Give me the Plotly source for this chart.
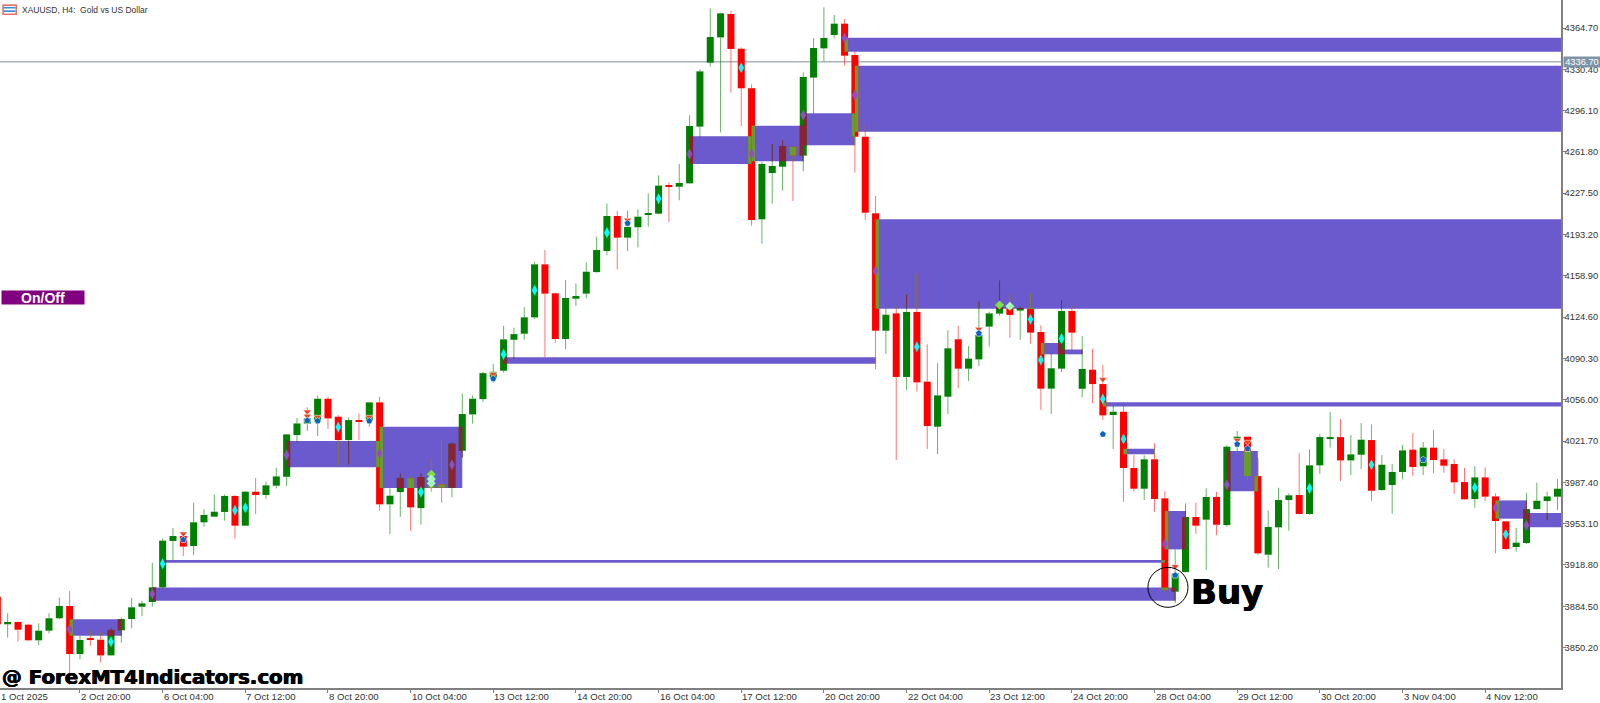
import plotly.graph_objects as go

# ---------- candle data (H4 XAUUSD) ----------
opens = [3892.4,3869.5,3871.4,3869.2,3856.2,3864.2,3874.5,3884.7,3844.8,3857.6,
3856.7,3843.7,3864.5,3873.9,3884.1,3888.0,3900.2,3938.7,3942.8,3934.5,
3954.2,3958.9,3962.8,3976.1,3951.4,3979.6,3976.9,3984.6,3992.0,4026.7,
4036.1,4037.7,4056.8,4041.9,4022.5,4038.6,4038.6,4053.8,3969.1,3979.3,
3990.9,3966.0,3984.3,3985.7,3982.9,4013.6,4043.8,4056.5,4074.3,4080.1,
4105.8,4110.8,4124.4,4168.4,4144.4,4106.4,4139.9,4144.1,4162.0,4179.5,
4208.6,4190.6,4199.2,4209.7,4210.5,4234.0,4232.9,4235.7,4282.8,4335.9,
4356.9,4376.3,4347.5,4314.6,4205.8,4244.3,4249.5,4266.1,4258.7,4323.5,
4347.8,4358.9,4368.3,4342.3,4274.4,4210.8,4113.3,4127.7,4074.9,4128.9,
4071.0,4033.6,4058.5,4106.2,4081.8,4089.5,4116.7,4127.5,4131.9,4130.0,
4131.9,4112.2,4065.2,4081.8,4129.7,4065.1,4080.9,4069.0,4043.3,4046.0,
3999.3,3982.1,4006.5,3974.1,3896.6,3912.9,3958.6,3956.4,3975.2,3951.9,
4023.6,4025.3,3992.6,3927.3,3950.0,3972.7,3976.9,3961.1,4001.5,4023.6,
4025.0,4005.6,4010.3,4022.5,3981.0,3985.2,3996.0,4014.5,4000.7,4016.2,
4006.5,4002.6,3987.6,3973.5,3991.5,3975.7,3955.0,3933.7,3937.0,3965.2,
3971.9,3975.5]
highs = [3895.2,3878.6,3872.0,3869.7,3870.3,3878.6,3891.9,3897.2,3860.1,3864.2,
3862.6,3866.1,3875.3,3891.6,3889.1,3920.7,3940.9,3949.5,3945.1,3970.5,
3965.0,3977.4,3977.4,3976.6,3980.2,3991.0,3988.0,3999.5,4027.5,4040.8,
4049.6,4059.6,4058.5,4043.3,4041.3,4044.6,4054.3,4058.5,3982.4,3994.8,
3992.0,3994.8,4007.3,4022.5,4020.6,4061.3,4059.6,4079.2,4085.6,4117.4,
4115.8,4133.0,4170.6,4180.3,4144.9,4155.4,4152.6,4170.1,4191.4,4218.8,
4212.7,4213.0,4214.1,4227.4,4242.3,4236.5,4251.8,4292.2,4330.6,4381.0,
4377.4,4379.1,4348.6,4317.9,4253.7,4268.4,4271.4,4266.1,4327.9,4356.4,
4381.9,4375.5,4372.2,4345.0,4284.1,4225.2,4131.9,4133.3,4143.2,4161.0,
4102.0,4086.2,4113.6,4117.2,4100.6,4137.7,4129.1,4154.9,4143.8,4133.3,
4144.4,4117.8,4094.0,4138.8,4134.4,4108.9,4098.1,4084.8,4050.8,4050.8,
4010.0,4009.8,4019.8,3980.2,3931.7,3969.9,3970.5,3982.4,3979.6,4018.4,
4030.0,4025.3,4007.3,3964.1,3982.9,3978.2,4011.7,4014.8,4027.5,4046.0,
4040.0,4026.7,4036.6,4035.5,4010.0,4002.6,4018.4,4028.3,4020.9,4030.8,
4015.0,4006.5,3999.5,4000.9,3999.8,3978.2,3955.3,3949.7,3978.8,3987.1,
3979.6,3990.1]
lows = [3867.5,3858.4,3855.1,3855.9,3852.3,3862.0,3873.6,3819.1,3840.4,3851.5,
3837.6,3843.4,3854.2,3866.1,3876.4,3884.1,3899.4,3922.9,3926.2,3927.0,
3950.6,3958.6,3955.6,3940.6,3951.1,3961.1,3973.8,3982.4,3984.3,4021.1,
4030.2,4025.8,4031.6,4001.5,4002.3,4022.5,4033.6,3963.8,3944.4,3958.8,
3947.2,3952.2,3979.6,3970.5,3974.9,4008.1,4036.1,4054.3,4070.1,4078.4,
4090.3,4105.8,4123.0,4091.2,4103.3,4097.9,4133.8,4140.2,4161.5,4176.2,
4164.3,4179.5,4182.5,4199.7,4210.2,4203.6,4221.6,4235.4,4274.4,4332.6,
4278.0,4311.0,4283.3,4200.5,4185.6,4218.8,4229.6,4221.0,4245.7,4293.8,
4337.0,4356.1,4333.4,4244.8,4205.3,4081.2,4094.0,4005.9,4064.1,4062.7,
4015.1,4010.9,4044.1,4065.5,4071.5,4084.0,4100.1,4125.8,4107.5,4105.6,
4102.6,4047.5,4044.1,4079.0,4097.3,4058.0,4053.0,4039.1,4015.0,3971.3,
3979.6,3972.7,3963.0,3896.6,3886.9,3912.6,3944.7,3914.6,3943.6,3950.5,
4013.4,3989.3,3927.0,3916.5,3915.4,3947.2,3960.8,3960.5,3994.3,4016.2,
3988.5,3993.5,3998.4,3972.1,3980.4,3961.3,3989.9,3992.9,3993.5,3994.8,
3995.4,3977.7,3973.0,3966.3,3971.9,3928.4,3930.6,3929.8,3936.2,3965.0,
3956.1,3964.4]
closes = [3869.5,3871.4,3865.0,3856.2,3864.2,3874.5,3884.7,3844.8,3856.5,3856.7,
3843.7,3864.8,3873.9,3883.6,3886.9,3900.2,3939.0,3942.8,3934.0,3954.2,
3960.3,3963.0,3976.1,3951.4,3979.6,3976.9,3984.9,3992.3,4027.2,4036.3,
4040.5,4056.8,4040.5,4022.5,4039.1,4037.7,4053.8,3969.1,3976.3,3990.9,
3966.6,3991.8,3983.2,3982.9,4019.5,4044.1,4056.8,4078.1,4079.2,4106.1,
4110.5,4124.4,4168.4,4144.1,4106.4,4140.5,4142.1,4162.3,4180.3,4208.6,
4190.6,4199.4,4208.0,4211.1,4233.8,4232.9,4236.0,4283.3,4328.7,4357.2,
4376.9,4347.3,4314.6,4205.2,4251.8,4250.1,4266.7,4258.7,4324.0,4348.1,
4356.4,4368.3,4341.7,4274.4,4211.3,4113.3,4126.6,4074.9,4128.9,4070.4,
4034.2,4059.6,4098.7,4081.8,4090.1,4109.8,4127.7,4132.7,4126.4,4131.9,
4111.7,4065.2,4082.1,4129.7,4111.7,4081.5,4069.0,4043.0,4046.0,3999.3,
3982.1,4006.5,3973.5,3898.5,3911.8,3958.6,3951.4,3975.2,3952.2,4017.0,
4025.3,3992.6,3928.4,3950.3,3972.7,3976.6,3961.1,4001.5,4025.0,4025.0,
4005.6,4010.6,4022.8,3980.4,4002.0,3996.0,4013.9,4000.1,4016.2,4005.9,
4001.2,3987.4,3973.3,3991.5,3975.5,3955.3,3932.0,3937.3,3965.2,3972.1,
3975.7,3982.1]

# ---------- supply / demand zones ----------
zone_start = [7,15,16,28,37,49,67,73,78,82,83,85,101,103,107,109,113,119,145,148]
zone_end   = [12,114,113,37,45,85,73,78,83,200,200,200,103,105,200,112,115,122,148,200]
zone_top   = [3873.6,3900.0,3922.9,4021.7,4033.6,4091.2,4274.8,4283.6,4293.9,4356.6,
              4333.4,4205.8,4103.1,4097.7,4053.8,4015.3,3963.6,4013.4,3972.4,3961.9]
zone_bot   = [3860.0,3889.1,3920.6,3999.9,3982.7,4085.9,4251.8,4254.0,4267.3,4345.0,
              4278.5,4131.6,4093.7,4093.7,4050.4,4010.7,3931.7,3979.9,3957.2,3950.0]

# ---------- indicator markers ----------
cyan_bars = [11,16,23,24,33,41,49,52,59,64,72,89,100,101,103,107,109,127,133,143,146]
cyan_vals = [3855.0,3919.8,3964.2,3966.3,4033.3,3979.3,4093.7,4146.9,4194.7,4222.9,4331.7,
             4100.0,4122.8,4089.0,4106.7,4056.6,4023.4,3982.4,4002.0,3982.9,3944.2]
violet_bars = [7,15,28,37,44,67,73,78,82,83,85,113,119,145,148]
violet_vals = [3865.3,3894.7,4010.0,4011.4,4002.0,4260.0,4260.3,4292.4,4356.4,4309.0,
               4162.9,3936.2,3985.4,3966.3,3951.7]
orange_bars = [18,30,30,31,36,48,61,95,107,114,120,121]
orange_vals = [3944.7,4046.0,4042.5,4041.6,4041.6,4077.1,4205.2,4114.7,4072.9,3917.6,4022.5,4020.9]
blue_bars = [18,30,31,36,48,61,95,107,114,120,121,138]
blue_vals = [3939.7,4038.6,4038.3,4038.3,4073.4,4202.5,4111.1,4027.3,3910.2,4019.0,4015.3,4006.2]
lime_bars = [42,97]
lime_vals = [3994.1,4134.7]
mint_bars = [42,42,98]
mint_vals = [3990.1,3986.6,4133.6]

# ---------- axes ----------
price_ticks = [4364.7,4330.4,4296.1,4261.8,4227.5,4193.2,4158.9,4124.6,4090.3,4056.0,
               4021.7,3987.4,3953.1,3918.8,3884.5,3850.2]
time_bars = [0,8,16,24,32,40,48,56,64,72,80,88,96,104,112,120,128,136,144]
time_labels = ["1 Oct 2025","2 Oct 20:00","6 Oct 04:00","7 Oct 12:00","8 Oct 20:00",
               "10 Oct 04:00","13 Oct 12:00","14 Oct 20:00","16 Oct 04:00","17 Oct 12:00",
               "20 Oct 20:00","22 Oct 04:00","23 Oct 12:00","24 Oct 20:00","28 Oct 04:00",
               "29 Oct 12:00","30 Oct 20:00","3 Nov 04:00","4 Nov 12:00"]
current_price = 4336.7

GREEN, RED, ZONE = "#008000", "#FF0000", "#6A5ACD"
MAROON, OLIVE = "#8B2332", "#6B9B2F"
HALF = 0.34
n = len(opens)
bars = list(range(n))


def body(i):
    return min(opens[i], closes[i]), max(opens[i], closes[i])


fig = go.Figure()

# zones
fig.add_trace(go.Bar(
    x=[(a + b) / 2 for a, b in zip(zone_start, zone_end)],
    width=[b - a for a, b in zip(zone_start, zone_end)],
    base=zone_bot,
    y=[t - b for t, b in zip(zone_top, zone_bot)],
    marker=dict(color=ZONE, line=dict(width=0)), hoverinfo="skip"))

# candle bodies
for up, col in ((True, GREEN), (False, RED)):
    idx = [i for i in bars if (closes[i] >= opens[i]) == up]
    fig.add_trace(go.Bar(
        x=idx, width=[2 * HALF] * len(idx),
        base=[body(i)[0] for i in idx],
        y=[body(i)[1] - body(i)[0] for i in idx],
        marker=dict(color=col, line=dict(width=0)), hoverinfo="skip"))

# XOR-like recolouring where candles and zones overlap
for up, col in ((True, MAROON), (False, OLIVE)):
    xs, ws, bs, hs = [], [], [], []
    for i in bars:
        if (closes[i] >= opens[i]) != up:
            continue
        lo, hi = body(i)
        for a, b, t, u in zip(zone_start, zone_end, zone_top, zone_bot):
            xl, xr = max(i - HALF, a), min(i + HALF, b)
            yl, yh = max(lo, u), min(hi, t)
            if xr > xl and yh > yl:
                xs.append((xl + xr) / 2); ws.append(xr - xl)
                bs.append(yl); hs.append(yh - yl)
    fig.add_trace(go.Bar(x=xs, width=ws, base=bs, y=hs,
                         marker=dict(color=col, line=dict(width=0)), hoverinfo="skip"))

# wicks
for up, col, zcol in ((True, "rgba(0,128,0,0.6)", "rgba(139,35,50,0.8)"),
                      (False, "rgba(255,0,0,0.55)", "rgba(107,155,47,0.8)")):
    xs, ys, zx, zy = [], [], [], []
    for i in bars:
        if (closes[i] >= opens[i]) != up:
            continue
        lo, hi = body(i)
        for s0, s1 in ((hi, highs[i]), (lows[i], lo)):
            if s1 <= s0:
                continue
            xs += [i, i, None]; ys += [s0, s1, None]
            for a, b, t, u in zip(zone_start, zone_end, zone_top, zone_bot):
                yl, yh = max(s0, u), min(s1, t)
                if a <= i <= b and yh > yl:
                    zx += [i, i, None]; zy += [yl, yh, None]
    fig.add_trace(go.Scatter(x=xs, y=ys, mode="lines", line=dict(color=col, width=1), hoverinfo="skip"))
    fig.add_trace(go.Scatter(x=zx, y=zy, mode="lines", line=dict(color=zcol, width=1), hoverinfo="skip"))

# markers
HALO = dict(width=1, color="rgba(255,255,255,0.55)")
SOLID = dict(width=0)
for mx, my, sym, col, size, edge in (
        (violet_bars, violet_vals, "diamond-tall", "#8E4FC4", 8, SOLID),
        (cyan_bars, cyan_vals, "diamond-tall", "#00FFFF", 8, SOLID),
        (orange_bars, orange_vals, "triangle-down", "#E8441F", 7, HALO),
        (blue_bars, blue_vals, "pentagon", "#0B63C0", 7, HALO),
        (lime_bars, lime_vals, "diamond", "#7FE040", 7, SOLID),
        (mint_bars, mint_vals, "diamond", "#A5FFB5", 7, SOLID)):
    fig.add_trace(go.Scatter(x=mx, y=my, mode="markers",
                             marker=dict(symbol=sym, color=col, size=size, line=edge),
                             hoverinfo="skip"))

PLOT_W, PLOT_H = 1561, 688
def px_x(v): return v / PLOT_W
def px_y(v): return 1 - v / PLOT_H

shapes = [
    dict(type="line", xref="paper", yref="y", x0=0, x1=1, y0=current_price, y1=current_price,
         line=dict(color="#A9B4BE", width=1.5), layer="below"),
    dict(type="circle", xref="x", yref="y", x0=111.36, x1=115.24, y0=3883.6, y1=3916.8,
         line=dict(color="#000000", width=1)),
    # terminal icon
    dict(type="rect", xref="paper", yref="paper", x0=px_x(2.3), x1=px_x(17), y0=px_y(15), y1=px_y(4.3),
         fillcolor="#E8736B", line=dict(width=0)),
    dict(type="rect", xref="paper", yref="paper", x0=px_x(4), x1=px_x(15.5), y0=px_y(13.5), y1=px_y(6),
         fillcolor="#FFFFFF", line=dict(width=0)),
    dict(type="rect", xref="paper", yref="paper", x0=px_x(4), x1=px_x(15.5), y0=px_y(8.5), y1=px_y(7),
         fillcolor="#3D8FD8", line=dict(width=0)),
    dict(type="rect", xref="paper", yref="paper", x0=px_x(4), x1=px_x(15.5), y0=px_y(12), y1=px_y(10.3),
         fillcolor="#3D8FD8", line=dict(width=0)),
]

SANS = "Liberation Sans, Arial, sans-serif"
AXIS_FONT = dict(family=SANS, size=9.3, color="#333333")
TIME_FONT = dict(family=SANS, size=9.6, color="#333333")
TITLE_FONT = dict(family=SANS, size=8.5, color="#333333")
HEAVY = "0.5px 0 0 #000, -0.5px 0 0 #000"
annotations = []
for k, (b, lab) in enumerate(zip(time_bars, time_labels)):
    inside = b > 0
    annotations.append(dict(
        x=b if inside else 0, xref="x" if inside else "paper",
        y=0, yref="paper", yanchor="top", xanchor="left", yshift=-2,
        text=lab, showarrow=False, font=TIME_FONT, borderpad=0))
annotations += [
    dict(x=px_x(20), xref="paper", y=px_y(10), yref="paper", xanchor="left", yanchor="middle",
         text="XAUUSD, H4:  Gold vs US Dollar", showarrow=False, font=TITLE_FONT),
    dict(x=px_x(1), xref="paper", y=px_y(290), yref="paper", xanchor="left", yanchor="top",
         text="<b>On/Off</b>", showarrow=False, width=80, height=11, bgcolor="#800080",
         font=dict(family=SANS, size=14, color="#FFFFFF"), borderpad=1),
    dict(x=px_x(1), xref="paper", y=px_y(677), yref="paper", xanchor="left", yanchor="middle",
         text="<b>@ ForexMT4Indicators.com</b>", showarrow=False,
         font=dict(family="DejaVu Sans, sans-serif", size=19.8, color="#000000", shadow=HEAVY), borderpad=0),
    dict(x=px_x(1190), xref="paper", y=px_y(592), yref="paper", xanchor="left", yanchor="middle",
         text="<b>Buy</b>", showarrow=False,
         font=dict(family="DejaVu Sans, sans-serif", size=34, color="#000000", shadow=HEAVY), borderpad=0),
    dict(x=1, xref="paper", xshift=2, y=current_price, yref="y", xanchor="left", yanchor="middle",
         text="4336.70", showarrow=False, bgcolor="#7F94A6", width=36, height=10, borderpad=0,
         font=dict(family=SANS, size=9.3, color="#FFFFFF")),
]

fig.update_layout(
    width=1600, height=703, autosize=False, showlegend=False, barmode="overlay",
    paper_bgcolor="#FFFFFF", plot_bgcolor="#FFFFFF",
    margin=dict(l=0, r=39, t=0, b=15, pad=0),
    shapes=shapes, annotations=annotations, hovermode=False,
    xaxis=dict(range=[0.2585, 151.34], showgrid=False, zeroline=False,
               tickmode="array", tickvals=time_bars, ticktext=time_labels, showticklabels=False,
               ticks="outside", ticklen=3, tickcolor="#808080", tickwidth=1,
               showline=True, linecolor="#808080", linewidth=1.5, fixedrange=True),
    yaxis=dict(range=[3816.6, 4387.95], side="right", showgrid=False, zeroline=False,
               tickmode="array", tickvals=price_ticks, ticktext=[f"{v:.2f}" for v in price_ticks],
               ticks="outside", ticklen=3, tickcolor="#808080", tickwidth=1, tickfont=AXIS_FONT,
               ticklabelstandoff=-3,
               showline=True, linecolor="#808080", linewidth=1.5, fixedrange=True, automargin=False),
)

fig.write_html("out.html", config=dict(displayModeBar=False),
               post_script="document.body.style.margin='0';document.body.style.overflow='hidden';")
